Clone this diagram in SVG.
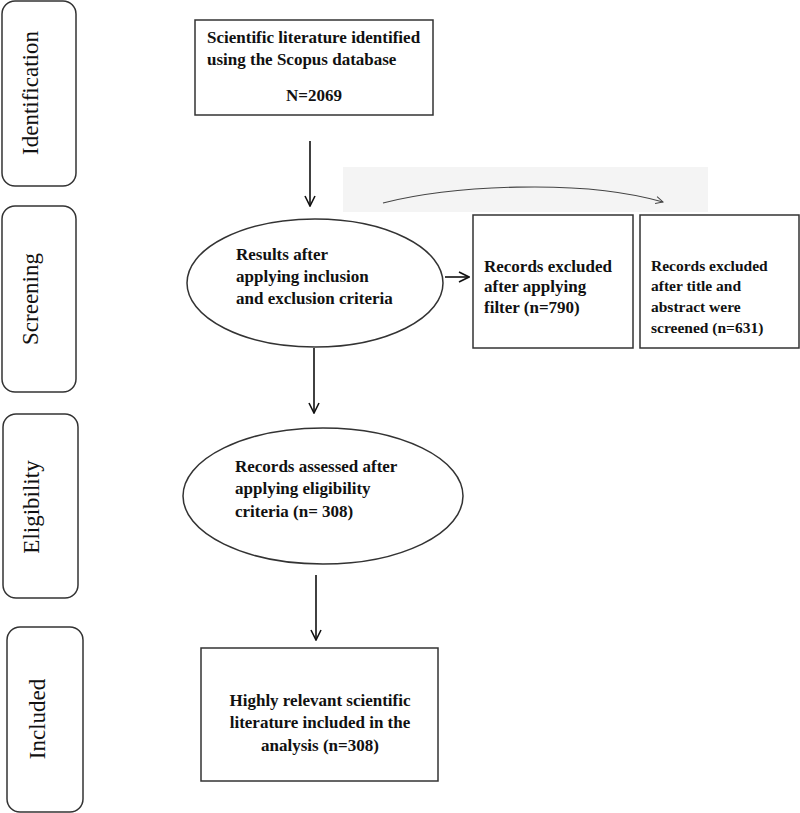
<svg xmlns="http://www.w3.org/2000/svg" width="800" height="813" viewBox="0 0 800 813">
<style>
.phase{fill:#fff;stroke:#333;stroke-width:1.5}
.lbl{font-family:"Liberation Serif","Times New Roman",serif;font-size:23px;fill:#111}
.box{fill:#fff;stroke:#333;stroke-width:1.5}
.t{font-family:"Liberation Serif","Times New Roman",serif;font-size:17px;font-weight:bold;fill:#111}
.s{font-size:15.5px}
.conn{stroke:#111;stroke-width:1.6;fill:none}
</style>
<defs>
<marker id="ah" viewBox="0 0 12 12" refX="11" refY="6" markerWidth="12" markerHeight="12" markerUnits="userSpaceOnUse" orient="auto">
<path d="M1,1 L11,6 L1,11" fill="none" stroke="#111" stroke-width="1.6"/>
</marker>
<marker id="ahg" viewBox="0 0 10 10" refX="9" refY="5" markerWidth="9" markerHeight="9" markerUnits="userSpaceOnUse" orient="auto">
<path d="M1,1 L9,5 L1,9" fill="none" stroke="#444" stroke-width="1.1"/>
</marker>
</defs>
<rect width="800" height="813" fill="#fff"/>
<g id="phase-identification"><rect class="phase" x="2" y="1" width="74" height="185" rx="13"/><text class="lbl" transform="translate(38,93) rotate(-90)" text-anchor="middle">Identification</text></g>
<g id="phase-screening"><rect class="phase" x="2" y="206" width="74" height="186" rx="13"/><text class="lbl" transform="translate(38,299) rotate(-90)" text-anchor="middle">Screening</text></g>
<g id="phase-eligibility"><rect class="phase" x="3" y="414" width="75" height="184" rx="13"/><text class="lbl" transform="translate(39,507) rotate(-90)" text-anchor="middle">Eligibility</text></g>
<g id="phase-included"><rect class="phase" x="7" y="627" width="76" height="185" rx="13"/><text class="lbl" transform="translate(45,719) rotate(-90)" text-anchor="middle">Included</text></g>
<g id="identified"><rect class="box" x="195" y="20" width="238" height="95"/><text class="t" x="207" y="43">Scientific literature identified</text><text class="t" x="207" y="65">using the Scopus database</text><text class="t" x="314" y="101" text-anchor="middle">N=2069</text></g>
<g id="band"><rect x="343" y="167" width="365" height="45" fill="#f4f4f4"/></g>
<g id="screened"><ellipse class="box" cx="315" cy="283" rx="128" ry="64"/><text class="t" x="236" y="260">Results after</text><text class="t" x="236" y="282">applying inclusion</text><text class="t" x="236" y="304">and exclusion criteria</text></g>
<g id="excluded-filter"><rect class="box" x="473" y="215" width="160" height="133"/><text class="t" x="484" y="272">Records excluded</text><text class="t" x="484" y="292">after applying</text><text class="t" x="484" y="313">filter (n=790)</text></g>
<g id="excluded-abstract"><rect class="box" x="640" y="215" width="159" height="133"/><text class="t s" x="651" y="271">Records excluded</text><text class="t s" x="651" y="291">after title and</text><text class="t s" x="651" y="312">abstract were</text><text class="t s" x="651" y="333">screened (n=631)</text></g>
<g id="eligible"><ellipse class="box" cx="323" cy="496" rx="140" ry="68"/><text class="t" x="235" y="472">Records assessed after</text><text class="t" x="235" y="494">applying eligibility</text><text class="t" x="235" y="517">criteria (n= 308)</text></g>
<g id="included"><rect class="box" x="201" y="648" width="237" height="133"/><text class="t" x="320" y="706" text-anchor="middle">Highly relevant scientific</text><text class="t" x="320" y="728" text-anchor="middle">literature included in the</text><text class="t" x="320" y="751" text-anchor="middle">analysis (n=308)</text></g>
<g id="connectors">
<line class="conn" x1="310" y1="141" x2="310" y2="206" marker-end="url(#ah)"/>
<line class="conn" x1="445" y1="277" x2="469" y2="277" marker-end="url(#ah)"/>
<line class="conn" x1="314" y1="348" x2="314" y2="413" marker-end="url(#ah)"/>
<line class="conn" x1="316" y1="575" x2="316" y2="640" marker-end="url(#ah)"/>
<path d="M383,203 C450,186 580,178 663,202" fill="none" stroke="#444" stroke-width="1.1" marker-end="url(#ahg)"/>
</g>
</svg>
